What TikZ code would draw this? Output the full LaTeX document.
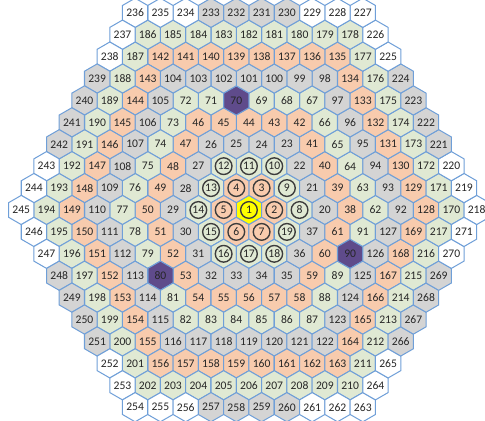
\documentclass[tikz,border=0pt]{standalone}
\usepackage{fontspec}
\setmainfont{Carlito}
\usetikzlibrary{shapes.geometric,calc}
\definecolor{cellgray}{HTML}{D4D4D4}
\definecolor{cellpeach}{HTML}{F8CBAD}
\definecolor{cellgreen}{HTML}{E0E9D3}
\definecolor{cellmark}{HTML}{5F4B8B}
\definecolor{coreyellow}{HTML}{FFFF00}
\definecolor{hexblue}{HTML}{6F9FD8}
\definecolor{numgray}{HTML}{262626}
\tikzset{
  hexcell/.style={regular polygon, regular polygon sides=6, shape border rotate=30, minimum size=0.866cm, inner sep=0pt, outer sep=0pt, draw=hexblue, line width=0.85pt, text=numgray, font=\fontsize{9.8}{9.8}\selectfont},
  coremark/.style={draw=numgray!90, line width=1.15pt}
}

\begin{document}
\begin{tikzpicture}[x=0.75cm, y=0.75cm]
  \useasboundingbox (-9.84,-8.34) rectangle (9.33,8.30);
  \node[hexcell, fill=coreyellow] (h1) at (0,0) {1};
  \draw[coremark] (h1.center) circle (0.33);
  % rings spiral out from the E corner, counter-clockwise
  \foreach \k in {1,...,9} {
    \pgfmathtruncatemacro\kk{\k-1}
    \pgfmathtruncatemacro\m{mod(\k,3)}
    \foreach \s in {0,...,5} {
      \foreach \j in {0,...,\kk} {
        \pgfmathtruncatemacro\n{3*\k*(\k-1)+2+\s*\k+\j}
        \ifcase\m \def\cellfill{cellgray}\or \def\cellfill{cellpeach}\or \def\cellfill{cellgreen}\fi
        \ifnum\k=9 \ifnum\j<3 \def\cellfill{white}\fi \ifnum\j>6 \def\cellfill{white}\fi \fi
        \ifnum\n=70 \def\cellfill{cellmark}\fi
        \ifnum\n=80 \def\cellfill{cellmark}\fi
        \ifnum\n=90 \def\cellfill{cellmark}\fi
        \node[hexcell, fill=\cellfill] (h\n) at ($(60*\s:\k)+(60*\s+120:\j)$) {\n};
        \ifnum\k<3 \draw[coremark] (h\n.center) circle (0.33);\fi
      }
    }
  }
\end{tikzpicture}
\end{document}
